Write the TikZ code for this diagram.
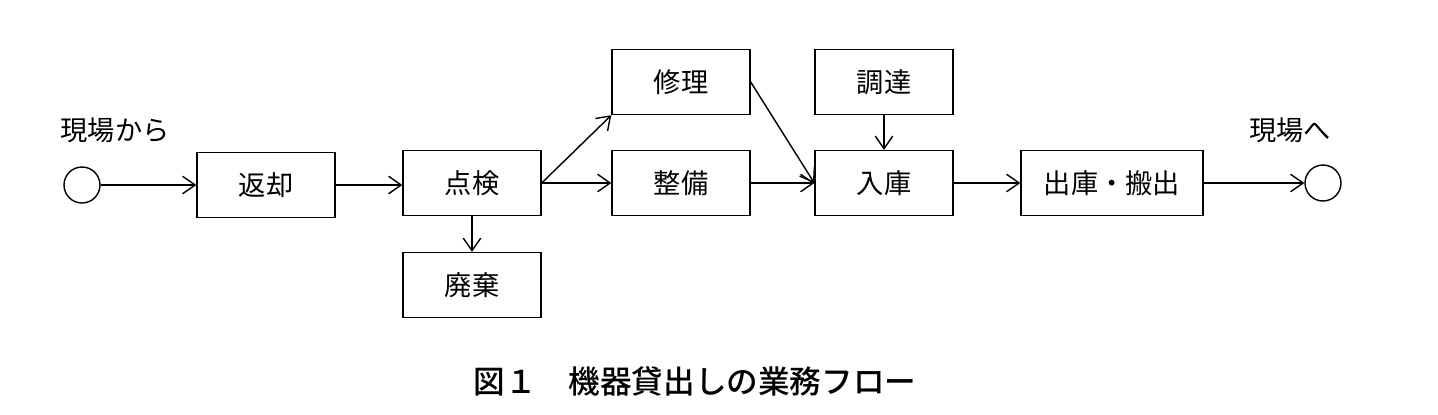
\documentclass[tikz,border=0pt]{standalone}
\usepackage{fontspec}
\setmainfont{Noto Sans CJK JP}
\newfontfamily\capfont{Noto Sans CJK JP Medium}
\usetikzlibrary{arrows.meta}
\begin{document}
\begin{tikzpicture}[x=0.02cm,y=-0.02cm,
 box/.style={draw,thick,minimum width=2.76cm,minimum height=1.3cm,inner sep=0pt,font=\fontsize{15.5}{17}\selectfont},
 term/.style={draw,thick,circle,minimum size=0.72cm,inner sep=0pt},
 lbl/.style={font=\fontsize{15.5}{17}\selectfont},
 arr/.style={thick,-{Straight Barb[length=2.5mm,width=3.5mm]}}]
\useasboundingbox (0,0) rectangle (1438,414);
\node[term] (s) at (82,185) {};
\node[lbl] (sl) at (115,130) {現場から};
\node[box] (a) at (266,185) {返却};
\node[box] (b) at (472,183) {点検};
\node[box] (c) at (472,285) {廃棄};
\node[box] (d) at (681,82) {修理};
\node[box] (e) at (681,183) {整備};
\node[box] (f) at (884,82) {調達};
\node[box] (g) at (884,183) {入庫};
\node[box,minimum width=3.64cm] (h) at (1112,183) {出庫・搬出};
\node[term] (t) at (1323,183) {};
\node[lbl] (tl) at (1290,130) {現場へ};
\draw[arr] (s) -- (a);
\draw[arr] (a) -- (a -| b.west);
\draw[arr] (b.east) -- (d.south west);
\draw[arr] (b.east) -- (e.west);
\draw[arr] (b.south) -- (c.north);
\draw[arr] (d.east) -- (g.west);
\draw[arr] (e.east) -- (g.west);
\draw[arr] (f.south) -- (g.north);
\draw[arr] (g.east) -- (h.west);
\draw[arr] (h.east) -- (t.west);
\node[font=\fontsize{18}{20}\capfont] (cap) at (695,381) {図１\quad 機器貸出しの業務フロー};
\end{tikzpicture}
\end{document}
